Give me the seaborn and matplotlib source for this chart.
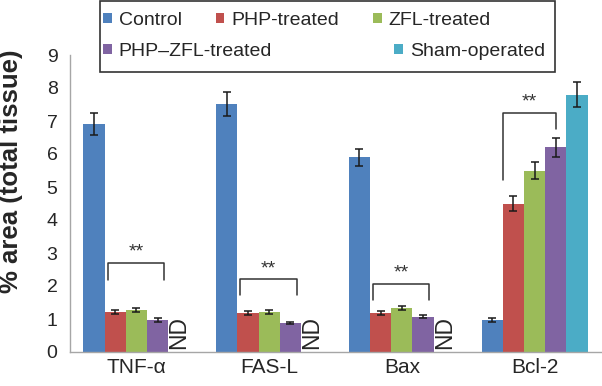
import numpy as np
import pandas as pd
import matplotlib
matplotlib.use("Agg")
import matplotlib.pyplot as plt
from matplotlib.patches import Rectangle
import seaborn as sns

# data
markers = ["TNF-\u03b1", "FAS-L", "Bax", "Bcl-2"]
groups = ["Control", "PHP-treated", "ZFL-treated", "PHP\u2013ZFL-treated", "Sham-operated"]
control = [6.9, 7.52, 5.9, 0.97]
php = [1.2, 1.17, 1.18, 4.5]
zfl = [1.28, 1.22, 1.32, 5.5]
php_zfl = [0.97, 0.88, 1.07, 6.2]
sham = [np.nan, np.nan, np.nan, 7.8]   # ND = not detected
control_err = [0.33, 0.36, 0.25, 0.06]
php_err = [0.06, 0.06, 0.06, 0.22]
zfl_err = [0.06, 0.06, 0.06, 0.27]
php_zfl_err = [0.06, 0.04, 0.05, 0.30]
sham_err = [np.nan, np.nan, np.nan, 0.37]
palette = ["#4F81BD", "#C0504D", "#9BBB59", "#8064A2", "#4BACC6"]

# significance brackets: marker index, first group, last group, top, left leg end, right leg end
brackets = [
    (0, 1, 3, 2.70, 2.18, 2.18),
    (1, 1, 3, 2.20, 1.72, 1.72),
    (2, 1, 3, 2.06, 1.58, 1.58),
    (3, 0, 3, 7.24, 5.20, 6.75),
]

values = [control, php, zfl, php_zfl, sham]
errors = [control_err, php_err, zfl_err, php_zfl_err, sham_err]
rows = []
for g, vals, errs in zip(groups, values, errors):
    for m, v, e in zip(markers, vals, errs):
        rows.append({"marker": m, "group": g, "value": v, "err": e})
df = pd.DataFrame(rows)
df["plot_value"] = df["value"].fillna(0)

sns.set_style("white")
plt.rcParams["font.family"] = ["Liberation Sans", "DejaVu Sans"]

fig = plt.figure(figsize=(6.02, 3.86), dpi=100)
ax = fig.add_axes([70 / 602, 34 / 386, 531 / 602, 297 / 386])

sns.barplot(data=df, x="marker", y="plot_value", hue="group", order=markers,
            hue_order=groups, palette=palette, saturation=1, errorbar=None,
            width=0.8, linewidth=0, edgecolor="none", ax=ax)
handles, labels = ax.get_legend_handles_labels()
ax.get_legend().remove()
bar_sets = list(ax.containers)

# error bars and ND labels
for i, cont in enumerate(bar_sets):
    xs = np.array([p.get_x() + p.get_width() / 2 for p in cont.patches])
    vals = np.array(values[i], dtype=float)
    errs = np.array(errors[i], dtype=float)
    ok = ~np.isnan(vals)
    ax.errorbar(xs[ok], vals[ok], yerr=errs[ok], fmt="none", ecolor="#1a1a1a",
                elinewidth=1.1, capsize=3, capthick=1.1, zorder=5)
    for x, v in zip(xs, vals):
        if np.isnan(v):
            ax.text(x, 0.1, "ND", rotation=90, ha="center", va="bottom", fontsize=16.5)

# brackets with **
for m, g0, g1, top, yl, yr in brackets:
    p0 = bar_sets[g0].patches[m]
    p1 = bar_sets[g1].patches[m]
    w = p0.get_width()
    if g0 == 0:
        xl = p0.get_x() + w
        xr = p1.get_x() + 0.5 * w
    else:
        xl = p0.get_x() + 0.15 * w
        xr = p1.get_x() + 0.8 * w
    ax.plot([xl, xl, xr, xr], [yl, top, top, yr], color="#333333", lw=1.1)
    ax.text((xl + xr) / 2, top + 0.33, "**", ha="center", va="center", fontsize=14,
            color="#333333")

ax.set_xlim(-0.5, 3.5)
ax.set_ylim(0, 9)
ax.set_yticks(range(0, 10))
ax.set_xlabel("")
ax.set_ylabel("")
ax.set_xticks([-0.5, 0.5, 1.5, 2.5, 3.5], minor=True)
ax.tick_params(axis="x", which="major", length=0, labelsize=15, pad=4)
ax.tick_params(axis="x", which="minor", length=7, color="#a0a0a0", direction="out")
ax.tick_params(axis="y", length=5, color="#a0a0a0", direction="out", labelsize=14, pad=4)
sns.despine(ax=ax)
for s in ["left", "bottom"]:
    ax.spines[s].set_color("#a6a6a6")
    ax.spines[s].set_linewidth(1)

fig.text(11 / 602, 1 - 171 / 386, "% area (total tissue)", rotation=90,
         ha="center", va="center", fontsize=18.5, fontweight="bold")

# legend box laid out in two rows like the original
fig.patches.append(Rectangle((100 / 602, 1 - 72 / 386), 455 / 602, 71 / 386,
                             transform=fig.transFigure, fill=False,
                             edgecolor="#333333", lw=1.2))
leg_kw = dict(frameon=False, fontsize=14, handlelength=0.45, handleheight=0.45,
              handletextpad=0.35, borderaxespad=0, borderpad=0)
fig.legend(handles[:3], labels[:3], loc="upper left", ncol=3,
           bbox_to_anchor=(103 / 602, 1 - 12 / 386), columnspacing=1.75, **leg_kw)
fig.legend(handles[3:], labels[3:], loc="upper left", ncol=2,
           bbox_to_anchor=(103 / 602, 1 - 43 / 386), columnspacing=6.3, **leg_kw)

fig.savefig("out.png", dpi=100)
